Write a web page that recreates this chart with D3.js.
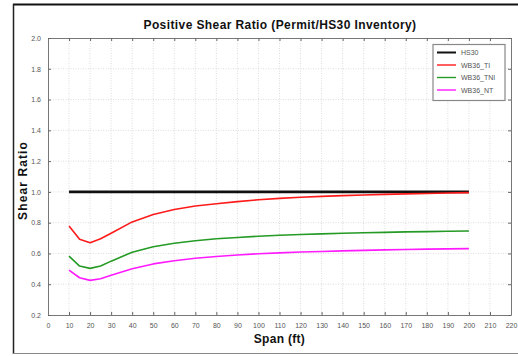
<!DOCTYPE html>
<html>
<head>
<meta charset="utf-8">
<script src="https://cdn.jsdelivr.net/npm/d3@7"></script>
<style>
  html, body { margin: 0; padding: 0; background: #fff; }
  svg { display: block; font-family: "Liberation Sans", Arial, sans-serif; }
</style>
</head>
<body>
<svg id="chart" width="518" height="356"></svg>
<script>
// Span values (ft) and shear ratios for each loading
const spans = [10, 15, 20, 25, 30, 40, 50, 60, 70, 80, 90, 100, 110, 120, 130, 140, 150, 160, 170, 180, 190, 200];
const hs30   = [1.0, 1.0, 1.0, 1.0, 1.0, 1.0, 1.0, 1.0, 1.0, 1.0, 1.0, 1.0, 1.0, 1.0, 1.0, 1.0, 1.0, 1.0, 1.0, 1.0, 1.0, 1.0];
const wb36TI  = [0.779, 0.692, 0.670, 0.695, 0.731, 0.805, 0.853, 0.886, 0.908, 0.923, 0.937, 0.949, 0.958, 0.965, 0.971, 0.976, 0.980, 0.984, 0.987, 0.990, 0.993, 0.995];
const wb36TNI = [0.583, 0.518, 0.503, 0.518, 0.550, 0.608, 0.644, 0.666, 0.683, 0.695, 0.704, 0.712, 0.718, 0.723, 0.727, 0.731, 0.734, 0.737, 0.740, 0.742, 0.744, 0.746];
const wb36NT  = [0.492, 0.442, 0.425, 0.436, 0.458, 0.500, 0.532, 0.553, 0.569, 0.580, 0.590, 0.598, 0.604, 0.609, 0.613, 0.617, 0.620, 0.623, 0.626, 0.628, 0.630, 0.631];

const seriesNames = ["HS30", "WB36_TI", "WB36_TNI", "WB36_NT"];
const seriesValues = [hs30, wb36TI, wb36TNI, wb36NT];
const seriesColors = ["#111111", "#ff1a1a", "#259a25", "#ff1aff"];
const seriesWidths = [2.8, 1.6, 1.6, 1.6];

const xTicks = d3.range(0, 221, 10);
const yTicks = d3.range(0.2, 2.01, 0.2).map(v => +v.toFixed(1));

const title = "Positive Shear Ratio (Permit/HS30 Inventory)";
const xLabel = "Span (ft)";
const yLabel = "Shear Ratio";

const svg = d3.select("#chart");

// outer frame of the figure
svg.append("line").attr("x1", 13).attr("x2", 518).attr("y1", 4.5).attr("y2", 4.5)
  .attr("stroke", "#111").attr("stroke-width", 2);
svg.append("line").attr("x1", 13.5).attr("x2", 13.5).attr("y1", 4).attr("y2", 354)
  .attr("stroke", "#222").attr("stroke-width", 1.5);
svg.append("line").attr("x1", 13).attr("x2", 518).attr("y1", 353.5).attr("y2", 353.5)
  .attr("stroke", "#888").attr("stroke-width", 1);

const plot = { left: 48, right: 511, top: 38, bottom: 315 };

const x = d3.scaleLinear().domain([0, 220]).range([plot.left, plot.right]);
const y = d3.scaleLinear().domain([0.2, 2.0]).range([plot.bottom, plot.top]);

// dotted grid
const grid = svg.append("g");
grid.selectAll(".gx").data(xTicks.slice(1, -1)).join("line")
  .attr("x1", d => x(d)).attr("x2", d => x(d))
  .attr("y1", plot.top).attr("y2", plot.bottom)
  .attr("stroke", "#d4d4d4").attr("stroke-width", 0.8).attr("stroke-dasharray", "1,1.5");
grid.selectAll(".gy").data(yTicks.slice(1, -1)).join("line")
  .attr("x1", plot.left).attr("x2", plot.right)
  .attr("y1", d => y(d)).attr("y2", d => y(d))
  .attr("stroke", "#d4d4d4").attr("stroke-width", 0.8).attr("stroke-dasharray", "1,1.5");

// axes with inward ticks on all four sides
const tickColor = "#666";
const fmtY = d3.format(".1f");
const axB = svg.append("g").attr("transform", `translate(0,${plot.bottom})`)
  .call(d3.axisBottom(x).tickValues(xTicks).tickSizeInner(-3).tickSizeOuter(0).tickPadding(8));
const axT = svg.append("g").attr("transform", `translate(0,${plot.top})`)
  .call(d3.axisTop(x).tickValues(xTicks).tickSizeInner(-3).tickSizeOuter(0).tickFormat(""));
const axL = svg.append("g").attr("transform", `translate(${plot.left},0)`)
  .call(d3.axisLeft(y).tickValues(yTicks).tickSizeInner(-3).tickSizeOuter(0).tickPadding(7).tickFormat(fmtY));
const axR = svg.append("g").attr("transform", `translate(${plot.right},0)`)
  .call(d3.axisRight(y).tickValues(yTicks).tickSizeInner(-3).tickSizeOuter(0).tickFormat(""));
[axB, axT, axL, axR].forEach(a => {
  a.select(".domain").attr("stroke", "#777").attr("stroke-width", 1);
  a.selectAll(".tick line").attr("stroke", tickColor);
  a.selectAll("text").attr("fill", "#555").attr("font-size", 7)
    .attr("font-family", "'Liberation Sans', Arial, sans-serif");
});

// series lines
const line = d3.line().x((d, i) => x(spans[i])).y(d => y(d));
seriesValues.forEach((vals, k) => {
  svg.append("path").datum(vals)
    .attr("d", line)
    .attr("fill", "none")
    .attr("stroke", seriesColors[k])
    .attr("stroke-width", seriesWidths[k])
    .attr("stroke-linejoin", "round");
});

// titles
svg.append("text").attr("x", 280).attr("y", 28.5).attr("text-anchor", "middle")
  .attr("font-size", 12).attr("font-weight", "bold").attr("letter-spacing", 0.4)
  .attr("fill", "#111").text(title);
svg.append("text").attr("x", 279.5).attr("y", 342.5).attr("text-anchor", "middle")
  .attr("font-size", 12).attr("font-weight", "bold").attr("letter-spacing", 0.3)
  .attr("fill", "#111").text(xLabel);
svg.append("text").attr("transform", `translate(27,${(plot.top + plot.bottom) / 2 + 4}) rotate(-90)`)
  .attr("text-anchor", "middle")
  .attr("font-size", 12).attr("font-weight", "bold").attr("letter-spacing", 1.1)
  .attr("fill", "#111").text(yLabel);

// legend
const lg = svg.append("g");
lg.append("rect").attr("x", 433).attr("y", 44.5).attr("width", 72).attr("height", 56)
  .attr("fill", "#fff").attr("stroke", "#888").attr("stroke-width", 1.2);
seriesNames.forEach((name, k) => {
  const yy = 52.5 + k * 12.5;
  lg.append("line").attr("x1", 437).attr("x2", 456).attr("y1", yy).attr("y2", yy)
    .attr("stroke", seriesColors[k]).attr("stroke-width", seriesWidths[k] > 2 ? 2 : 1.4);
  lg.append("text").attr("x", 461).attr("y", yy + 2.5)
    .attr("font-size", 7).attr("fill", "#555").text(name);
});
</script>
</body>
</html>
